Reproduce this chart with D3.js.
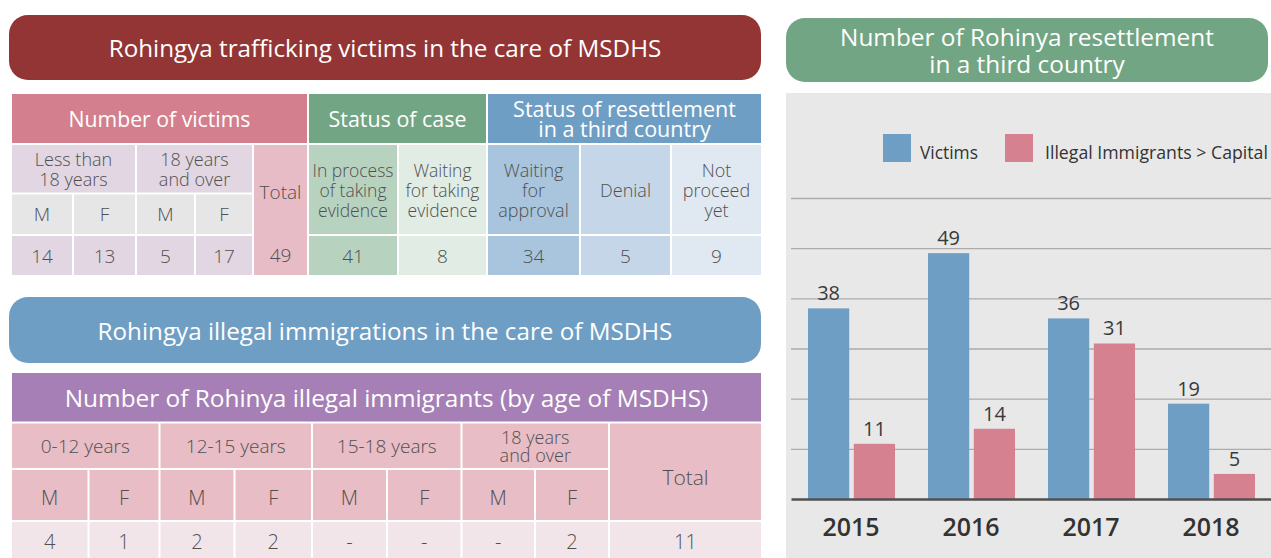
<!DOCTYPE html>
<html><head><meta charset="utf-8">
<script src="https://cdn.jsdelivr.net/npm/d3@7"></script>
<style>html,body{margin:0;padding:0;background:#fff;} svg{display:block;font-family:"Open Sans","Noto Sans",sans-serif;}</style>
</head><body><svg id="c" width="1271" height="558"></svg>
<script>
// ---------- data ----------
const years = ["2015", "2016", "2017", "2018"];
const victimsResettled = [38, 49, 36, 19];
const immigrantsResettled = [11, 14, 31, 5];
const seriesNames = ["Victims", "Illegal Immigrants > Capital"];
const gridTicks = [10, 20, 30, 40, 50, 60];

const victimAgeGroups = ["Less than\n18 years", "18 years\nand over"];
const sexLabels = ["M", "F"];
const victimCounts = [14, 13, 5, 17];
const victimTotal = 49;
const caseStatusLabels = ["In process\nof taking\nevidence", "Waiting\nfor taking\nevidence"];
const caseStatusCounts = [41, 8];
const resettleStatusLabels = ["Waiting\nfor\napproval", "Denial", "Not\nproceed\nyet"];
const resettleStatusCounts = [34, 5, 9];

const immigrantAgeGroups = ["0-12 years", "12-15 years", "15-18 years", "18 years\nand over"];
const immigrantCounts = ["4", "1", "2", "2", "-", "-", "-", "2"];
const immigrantTotal = 11;

// ---------- helpers ----------
const svg = d3.select("#c");
const TXT = "#505050";

function label(g, str, cx, cy, fs, lh, fill, weight, fitW) {
  const lines = String(str).split("\n");
  const n = lines.length;
  const t = g.append("text")
    .attr("text-anchor", "middle")
    .attr("font-size", fs)
    .attr("font-weight", weight || 300)
    .attr("fill", fill || TXT);
  lines.forEach((ln, i) => {
    t.append("tspan").attr("x", cx)
      .attr("y", cy + (i - (n - 1) / 2) * lh)
      .attr("dominant-baseline", "central")
      .text(ln);
  });
  if (fitW) {
    const first = t.select("tspan").node();
    const w = first.getComputedTextLength();
    if (w > 0) t.attr("font-size", fs * fitW / w);
  }
  return t;
}

function cell(g, xE, yE, c0, c1, r0, r1, fill, str, fs, lh, tfill, weight, fitW) {
  const x = xE[c0] + 1, w = xE[c1] - xE[c0] - 2;
  const y = yE[r0] + 1, h = yE[r1] - yE[r0] - 2;
  g.append("rect").attr("x", x).attr("y", y).attr("width", w).attr("height", h).attr("fill", fill);
  if (str !== undefined && str !== null)
    label(g, str, x + w / 2, y + h / 2, fs, lh, tfill, weight, fitW);
}

function pill(x, y, w, h, fill, str, fs, lh, fitW) {
  svg.append("rect").attr("x", x).attr("y", y).attr("width", w).attr("height", h)
    .attr("rx", 19).attr("fill", fill);
  label(svg, str, x + w / 2, y + h / 2, fs, lh, "#fff", 400, fitW);
}

// ---------- table 1 ----------
pill(9, 15, 752, 65, "#943535", "Rohingya trafficking victims in the care of MSDHS", 22, 26, 553);

const t1 = svg.append("g");
const xE = [11, 73, 136, 195, 253, 308, 398, 487, 580, 671, 762];
const yE = [93, 144, 193.5, 235, 276];
const C = {
  victHead: "#d47f8e", victSub: "#e1d6e2", sex: "#e6e6e6", total: "#e8bcc6",
  caseHead: "#72a583", case: ["#b7d3c0", "#e1ece4"],
  resHead: "#6f9ec4", res: ["#a9c4dd", "#c4d6e7", "#e0e8f1"]
};
cell(t1, xE, yE, 0, 5, 0, 1, C.victHead, "Number of victims", 20, 20, "#fff", 400, 182);
cell(t1, xE, yE, 5, 7, 0, 1, C.caseHead, "Status of case", 20, 20, "#fff", 400, 138);
cell(t1, xE, yE, 7, 10, 0, 1, C.resHead, "Status of resettlement\nin a third country", 19.5, 20.5, "#fff", 400, 223);
victimAgeGroups.forEach((g, i) => cell(t1, xE, yE, i * 2, i * 2 + 2, 1, 2, C.victSub, g, 18, 20));
victimCounts.forEach((v, i) => {
  cell(t1, xE, yE, i, i + 1, 2, 3, C.sex, sexLabels[i % 2], 19, 20);
  cell(t1, xE, yE, i, i + 1, 3, 4, C.victSub, v, 19, 20);
});
cell(t1, xE, yE, 4, 5, 1, 4, C.total, null);
label(t1, "Total", (xE[4] + xE[5]) / 2, 192, 19, 20);
label(t1, victimTotal, (xE[4] + xE[5]) / 2, 255, 19, 20);
caseStatusLabels.forEach((s, i) => {
  cell(t1, xE, yE, 5 + i, 6 + i, 1, 3, C.case[i], s, 17.5, 20);
  cell(t1, xE, yE, 5 + i, 6 + i, 3, 4, C.case[i], caseStatusCounts[i], 19, 20);
});
resettleStatusLabels.forEach((s, i) => {
  cell(t1, xE, yE, 7 + i, 8 + i, 1, 3, C.res[i], s, 18, 20);
  cell(t1, xE, yE, 7 + i, 8 + i, 3, 4, C.res[i], resettleStatusCounts[i], 19, 20);
});

// ---------- table 2 ----------
pill(9, 297, 752, 66, "#6f9ec4", "Rohingya illegal immigrations in the care of MSDHS", 22, 26, 575);

const t2 = svg.append("g");
const xE2 = [11, 88.5, 159.5, 234.5, 312, 387, 461.5, 535, 609, 762];
const yE2 = [372, 422.5, 469, 521, 562];
const C2 = { head: "#a57fb5", pink: "#e8bdc5", light: "#f2e5e9" };
cell(t2, xE2, yE2, 0, 9, 0, 1, C2.head, "Number of Rohinya illegal immigrants (by age of MSDHS)", 22, 22, "#fff", 400, 644);
immigrantAgeGroups.forEach((g, i) => {
  const two = g.indexOf("\n") >= 0;
  cell(t2, xE2, yE2, i * 2, i * 2 + 2, 1, 2, C2.pink, g, two ? 18 : 19, 18.5);
});
immigrantCounts.forEach((v, i) => {
  cell(t2, xE2, yE2, i, i + 1, 2, 3, C2.pink, null);
  label(t2, sexLabels[i % 2], (xE2[i] + xE2[i + 1]) / 2, 497, 20, 20);
  cell(t2, xE2, yE2, i, i + 1, 3, 4, C2.light, null);
  label(t2, v, (xE2[i] + xE2[i + 1]) / 2, 541, 20, 20);
});
cell(t2, xE2, yE2, 8, 9, 1, 3, C2.pink, null);
label(t2, "Total", (xE2[8] + xE2[9]) / 2, 477, 21, 20);
cell(t2, xE2, yE2, 8, 9, 3, 4, C2.light, null);
label(t2, immigrantTotal, (xE2[8] + xE2[9]) / 2, 541, 20, 20);

// ---------- bar chart ----------
pill(786, 18, 482, 64, "#72a583", "Number of Rohinya resettlement\nin a third country", 23, 27, 374);
svg.append("rect").attr("x", 786).attr("y", 93).attr("width", 485).attr("height", 465).attr("fill", "#e8e8e8");

const colors = d3.scaleOrdinal().domain(seriesNames).range(["#6f9ec4", "#d68190"]);
const x0 = d3.scaleBand().domain(years).range([791, 1271]);
const x1 = d3.scaleBand().domain(seriesNames).range([17, 104]).paddingInner(0.1);
const y = d3.scaleLinear().domain([0, 60]).range([499, 198]);

const chart = svg.append("g");
chart.append("g").attr("transform", "translate(791,0)")
  .call(d3.axisLeft(y).tickValues(gridTicks).tickSize(-480).tickFormat(""))
  .call(g => g.select(".domain").remove())
  .call(g => g.selectAll(".tick line").attr("stroke", "#ababab").attr("stroke-width", 1.3));

const rows = years.map((yr, i) => ({ year: yr, vals: [victimsResettled[i], immigrantsResettled[i]] }));
const grp = chart.selectAll(".grp").data(rows).join("g")
  .attr("transform", d => `translate(${x0(d.year)},0)`);
grp.selectAll("rect").data(d => d.vals.map((v, k) => ({ key: seriesNames[k], v })))
  .join("rect")
  .attr("x", d => x1(d.key)).attr("width", x1.bandwidth())
  .attr("y", d => y(d.v)).attr("height", d => y(0) - y(d.v))
  .attr("fill", d => colors(d.key));
grp.selectAll("text").data(d => d.vals.map((v, k) => ({ key: seriesNames[k], v })))
  .join("text")
  .attr("x", d => x1(d.key) + x1.bandwidth() / 2).attr("y", d => y(d.v) - 8)
  .attr("text-anchor", "middle").attr("font-size", 20).attr("font-weight", 500)
  .attr("fill", "#3a3a3a").text(d => d.v);

const xAxis = chart.append("g").attr("transform", "translate(0,499)")
  .call(d3.axisBottom(x0).tickSize(0).tickPadding(19));
xAxis.select(".domain").attr("stroke", "#505050").attr("stroke-width", 2.6);
xAxis.selectAll(".tick text").attr("font-size", 25).attr("font-weight", 600)
  .attr("fill", "#333").attr("font-family", "'Open Sans','Noto Sans',sans-serif");

// legend
const lg = chart.append("g");
const legendX = [883, 1005];
const legendW = [58, 223];
seriesNames.forEach((s, i) => {
  lg.append("rect").attr("x", legendX[i]).attr("y", 134).attr("width", 28).attr("height", 28).attr("fill", colors(s));
  const t = lg.append("text").attr("x", legendX[i] + (i === 0 ? 37 : 40)).attr("y", 152)
    .attr("dominant-baseline", "central").attr("font-size", 16.5).attr("fill", "#333").text(s);
  const w = t.node().getComputedTextLength();
  if (w > 0) t.attr("font-size", Math.min(18, 16.5 * legendW[i] / w));
});
</script></body></html>
